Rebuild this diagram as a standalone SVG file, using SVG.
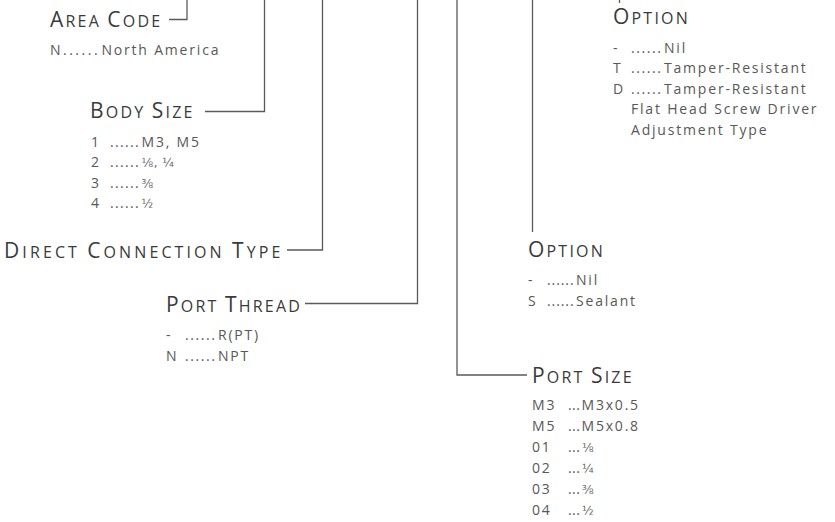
<svg xmlns="http://www.w3.org/2000/svg" width="835" height="522" viewBox="0 0 835 522">
<style>
.h{font-family:"Open Sans","Liberation Sans",sans-serif;font-weight:400;fill:#3a3a3a;font-size:16px;letter-spacing:2.2px}
.h .b{font-size:21px}
.wide{letter-spacing:3.1px}
.i{font-family:"Open Sans","Liberation Sans",sans-serif;font-weight:400;fill:#585858;font-size:14px;letter-spacing:1.8px}
.d{letter-spacing:1.3px}
.d5{letter-spacing:1.55px}
.d1{letter-spacing:0.9px}
.d2{letter-spacing:2.5px}
.d3{letter-spacing:0.4px}
.f{font-family:"DejaVu Sans","Open Sans",sans-serif;font-size:12px;letter-spacing:0.5px;fill:#666}
.ln{fill:none;stroke:#5a5a5a;stroke-width:1.3}
</style>
<rect width="835" height="522" fill="#fff"/>
<g id="connectors">
<polyline class="ln" points="187,0 187,19.5 169,19.5"/>
<polyline class="ln" points="264.5,0 264.5,111.5 205,111.5"/>
<polyline class="ln" points="322.5,0 322.5,250 287,250"/>
<polyline class="ln" points="417.5,0 417.5,303.5 305,303.5"/>
<polyline class="ln" points="457,0 457,375 527,375"/>
<line class="ln" x1="532.5" y1="0" x2="532.5" y2="232"/>
<line class="ln" x1="619.5" y1="0" x2="619.5" y2="3"/>
</g>
<g id="area-code">
<text class="h" x="50" y="27"><tspan class="b">A</tspan>REA <tspan class="b">C</tspan>ODE</text>
<text class="i" y="55"><tspan x="50">N</tspan><tspan class="d2" x="63">......</tspan><tspan x="101.5">North America</tspan></text>
</g>
<g id="body-size">
<text class="h" x="90" y="118"><tspan class="b">B</tspan>ODY <tspan class="b">S</tspan>IZE</text>
<text class="i"><tspan x="91" y="146.5">1</tspan><tspan class="d" x="110" y="146.5">......</tspan><tspan x="141.5" y="146.5">M3, M5</tspan><tspan x="91" y="167">2</tspan><tspan class="d" x="110" y="167">......</tspan><tspan class="f" x="141.5" y="167">⅛, ¼</tspan><tspan x="91" y="187.5">3</tspan><tspan class="d" x="110" y="187.5">......</tspan><tspan class="f" x="141.5" y="187.5">⅜</tspan><tspan x="91" y="208">4</tspan><tspan class="d" x="110" y="208">......</tspan><tspan class="f" x="141.5" y="208">½</tspan></text>
</g>
<g id="direct-connection-type">
<text class="h wide" x="4" y="257.5"><tspan class="b">D</tspan>IRECT <tspan class="b">C</tspan>ONNECTION <tspan class="b">T</tspan>YPE</text>
</g>
<g id="port-thread">
<text class="h" x="166" y="311.5"><tspan class="b">P</tspan>ORT <tspan class="b">T</tspan>HREAD</text>
<text class="i"><tspan x="166" y="339.5">-</tspan><tspan class="d5" x="185" y="339.5">......</tspan><tspan x="218" y="339.5">R(PT)</tspan><tspan x="166" y="361">N</tspan><tspan class="d5" x="185" y="361">......</tspan><tspan x="218" y="361">NPT</tspan></text>
</g>
<g id="port-size">
<text class="h" x="532" y="383"><tspan class="b">P</tspan>ORT <tspan class="b">S</tspan>IZE</text>
<text class="i"><tspan x="532" y="409.5">M3</tspan><tspan class="d3" x="568" y="409.5">...</tspan><tspan x="581.5" y="409.5">M3x0.5</tspan><tspan x="532" y="430.5">M5</tspan><tspan class="d3" x="568" y="430.5">...</tspan><tspan x="581.5" y="430.5">M5x0.8</tspan><tspan x="532" y="451.5">01</tspan><tspan class="d3" x="568" y="451.5">...</tspan><tspan class="f" x="582" y="451.5">⅛</tspan><tspan x="532" y="472.5">02</tspan><tspan class="d3" x="568" y="472.5">...</tspan><tspan class="f" x="582" y="472.5">¼</tspan><tspan x="532" y="493.5">03</tspan><tspan class="d3" x="568" y="493.5">...</tspan><tspan class="f" x="582" y="493.5">⅜</tspan><tspan x="532" y="514.5">04</tspan><tspan class="d3" x="568" y="514.5">...</tspan><tspan class="f" x="582" y="514.5">½</tspan></text>
</g>
<g id="option-sealant">
<text class="h" x="528" y="257"><tspan class="b">O</tspan>PTION</text>
<text class="i"><tspan x="528" y="285">-</tspan><tspan class="d1" x="547" y="285">......</tspan><tspan x="576" y="285">Nil</tspan><tspan x="528" y="306">S</tspan><tspan class="d1" x="547" y="306">......</tspan><tspan x="576" y="306">Sealant</tspan></text>
</g>
<g id="option-tamper">
<text class="h" x="613" y="24"><tspan class="b">O</tspan>PTION</text>
<text class="i"><tspan x="613" y="52.5">-</tspan><tspan class="d5" x="631" y="52.5">......</tspan><tspan x="664" y="52.5">Nil</tspan><tspan x="613" y="73">T</tspan><tspan class="d5" x="631" y="73">......</tspan><tspan x="664" y="73">Tamper-Resistant</tspan><tspan x="613" y="93.5">D</tspan><tspan class="d5" x="631" y="93.5">......</tspan><tspan x="664" y="93.5">Tamper-Resistant</tspan><tspan x="631" y="114">Flat Head Screw Driver</tspan><tspan x="631" y="134.5">Adjustment Type</tspan></text>
</g>
</svg>
